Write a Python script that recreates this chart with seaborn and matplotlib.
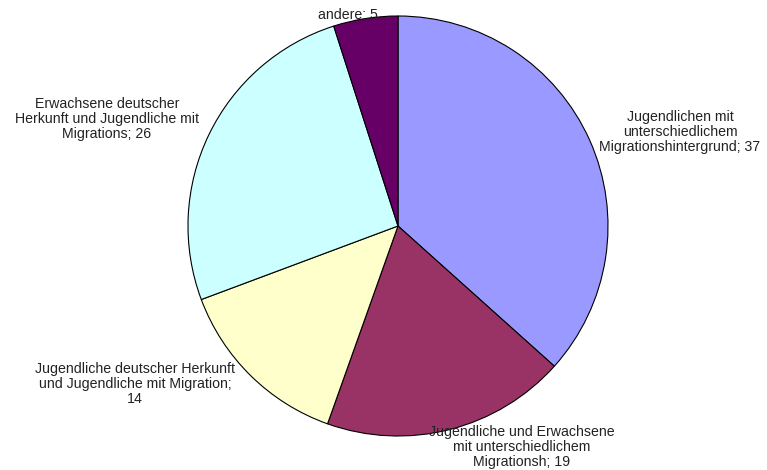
import matplotlib
matplotlib.use("Agg")
import matplotlib.pyplot as plt
import seaborn as sns

# Daten
kategorien = [
    "Jugendlichen mit\nunterschiedlichem\nMigrationshintergrund",
    "Jugendliche und Erwachsene\nmit unterschiedlichem\nMigrationsh",
    "Jugendliche deutscher Herkunft\nund Jugendliche mit Migration;\n",
    "Erwachsene deutscher\nHerkunft und Jugendliche mit\nMigrations",
    "andere",
]
werte = [37, 19, 14, 26, 5]
farben = ["#9999FF", "#993366", "#FFFFCC", "#CCFFFF", "#660066"]

sns.set_theme(style="white")
plt.rcParams["font.family"] = ["Liberation Sans", "DejaVu Sans"]

W, H = 767, 470
fig = plt.figure(figsize=(W / 100, H / 100), dpi=100)
ax = fig.add_axes([0, 0, 1, 1])

ax.pie(
    werte,
    colors=farben,
    startangle=90,
    counterclock=False,
    center=(398, H - 226),
    radius=210,
    frame=True,
    wedgeprops=dict(edgecolor="black", linewidth=0.8),
)
ax.set_xlim(0, W)
ax.set_ylim(0, H)
ax.set_aspect("equal")
ax.axis("off")

# Beschriftungen (Position in Pixeln)
pos = [(680, 132), (522, 447), (135, 384), (107, 119), (348, 15)]
for kat, w, (x, y) in zip(kategorien, werte, pos):
    if kat.endswith("\n"):
        txt = f"{kat}{w}"
    else:
        txt = f"{kat}; {w}"
    ax.text(x, H - y, txt, ha="center", va="center", fontsize=10.2,
            color="#222222", linespacing=1.1)

fig.savefig("out.png", dpi=100)
